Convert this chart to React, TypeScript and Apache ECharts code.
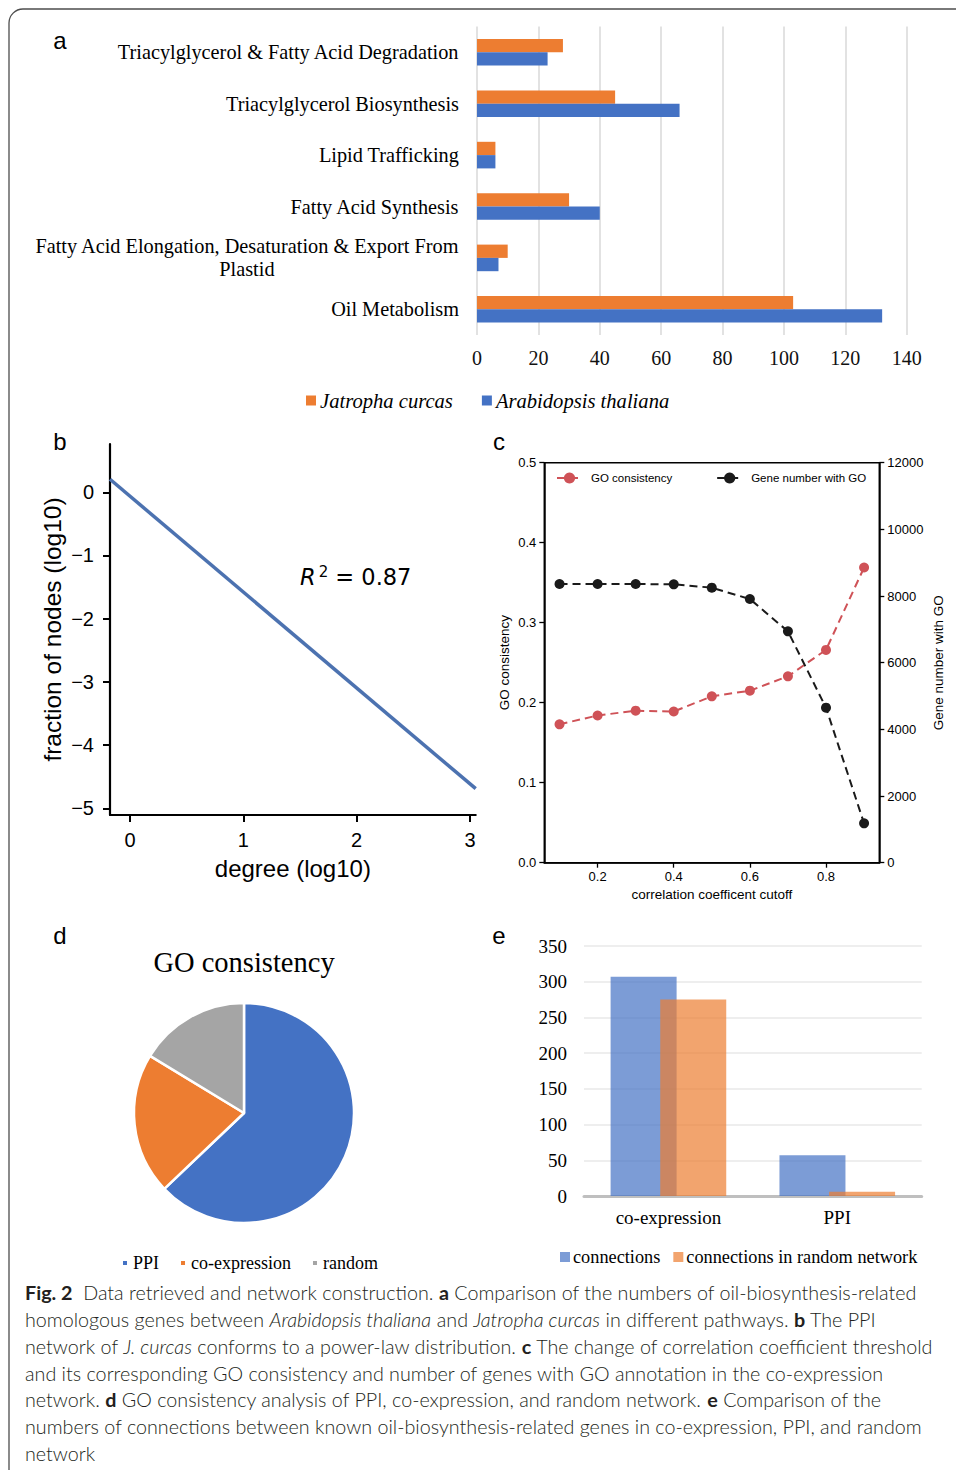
import React, { useEffect, useRef } from 'react';
import * as echarts from 'echarts';

// ---- Panel a data ----
const pathways = [
  'Triacylglycerol & Fatty Acid Degradation',
  'Triacylglycerol Biosynthesis',
  'Lipid Trafficking',
  'Fatty Acid Synthesis',
  'Fatty Acid Elongation, Desaturation & Export From Plastid',
  'Oil Metabolism',
];
const jatrophaCounts = [28, 45, 6, 30, 10, 103];
const arabidopsisCounts = [23, 66, 6, 40, 7, 132];

// ---- Panel b data ----
const degreeFitLine = [
  [-0.176, 0.206],
  [3.05, -4.69],
];
const degreeTicks = [0, 1, 2, 3];
const fractionTicks = [0, -1, -2, -3, -4, -5];

// ---- Panel c data ----
const cutoffs = [0.1, 0.2, 0.3, 0.4, 0.5, 0.6, 0.7, 0.8, 0.9];
const goConsistency = [0.173, 0.184, 0.19, 0.189, 0.208, 0.215, 0.233, 0.266, 0.369];
const geneNumberWithGO = [8360, 8360, 8360, 8350, 8250, 7910, 6940, 4650, 1180];
const cutoffTicks = [0.2, 0.4, 0.6, 0.8];

// ---- Panel d data ----
const pieNames = ['PPI', 'co-expression', 'random'];
const pieValues = [62.9, 20.8, 16.3];

// ---- Panel e data ----
const networkTypes = ['co-expression', 'PPI'];
const connections = [307, 57];
const randomConnections = [275, 6];

// ---- Caption ----
const captionLines = [
  '{b|Fig. 2}  Data retrieved and network construction. {b|a} Comparison of the numbers of oil-biosynthesis-related',
  'homologous genes between {i|Arabidopsis thaliana} and {i|Jatropha curcas} in different pathways. {b|b} The PPI',
  'network of {i|J. curcas} conforms to a power-law distribution. {b|c} The change of correlation coefficient threshold',
  'and its corresponding GO consistency and number of genes with GO annotation in the co-expression',
  'network. {b|d} GO consistency analysis of PPI, co-expression, and random network. {b|e} Comparison of the',
  'numbers of connections between known oil-biosynthesis-related genes in co-expression, PPI, and random',
  'network',
];

const SERIF = 'Liberation Serif';
const SANS = 'Liberation Sans';
const ORANGE = '#ed7d31';
const BLUE = '#4472c4';
const GRAY = '#a5a5a5';

export default function App() {
  const ref = useRef<HTMLDivElement>(null);

  useEffect(() => {
    if (!ref.current) return;
    const chart = echarts.init(ref.current, null, { renderer: 'svg' });

    const capFont = 'Lato';
    const capSize = 19.5;
    const capScale = 1.012;

    const graphic: any[] = [
      {
        type: 'rect',
        shape: { x: 9, y: 9, width: 1200, height: 1700, r: 14 },
        style: { fill: 'none', stroke: '#4d4d4d', lineWidth: 1.3 },
        silent: true,
      },
      ...[
        ['a', 60, 40],
        ['b', 60, 441],
        ['c', 499, 441],
        ['d', 60, 935],
        ['e', 499, 935],
      ].map(([t, x, y]) => ({
        type: 'text',
        x,
        y,
        style: {
          text: t,
          fontFamily: SANS,
          fontSize: 24,
          fill: '#000',
          align: 'center',
          verticalAlign: 'middle',
        },
      })),
      {
        type: 'text',
        x: 244,
        y: 962,
        style: {
          text: 'GO consistency',
          fontFamily: SERIF,
          fontSize: 28.5,
          fill: '#000',
          align: 'center',
          verticalAlign: 'middle',
        },
      },
      {
        type: 'text',
        x: 300,
        y: 577,
        style: {
          text: '{i|R}{s|2}{n| = 0.87}',
          verticalAlign: 'middle',
          rich: {
            i: { fontFamily: 'DejaVu Sans', fontStyle: 'italic', fontSize: 22.5, fill: '#000', lineHeight: 26 },
            s: { fontFamily: 'DejaVu Sans', fontSize: 15, fill: '#000', verticalAlign: 'top', padding: [0, 0, 0, 3] },
            n: { fontFamily: 'DejaVu Sans', fontSize: 22.5, fill: '#000', lineHeight: 26 },
          },
        },
      },
      ...captionLines.map((line, i) => ({
        type: 'text',
        x: 25,
        y: 1293 + i * 26.7,
        scaleX: capScale,
        style: {
          text: line,
          fontFamily: capFont,
          fontSize: capSize,
          fontWeight: 300,
          fill: '#231f20',
          verticalAlign: 'middle',
          rich: {
            b: { fontFamily: capFont, fontSize: capSize, fontWeight: 'bold', fill: '#231f20' },
            i: { fontFamily: capFont, fontSize: capSize, fontStyle: 'italic', fontWeight: 300, fill: '#231f20' },
          },
        },
      })),
    ];

    const option: any = {
      animation: false,
      backgroundColor: '#fff',
      legend: [
        {
          data: ['Jatropha curcas', 'Arabidopsis thaliana'],
          left: 306,
          top: 390,
          padding: 0,
          icon: 'rect',
          itemWidth: 10,
          itemHeight: 10,
          itemGap: 29,
          textStyle: { fontFamily: SERIF, fontSize: 20.6, fontStyle: 'italic', color: '#000', padding: [0, 0, 0, -1] },
        },
        {
          data: ['GO consistency', 'Gene number with GO'],
          left: 556,
          top: 472,
          padding: 0,
          itemWidth: 25,
          itemHeight: 14,
          itemGap: 44,
          textStyle: { fontFamily: SANS, fontSize: 11.5, color: '#000', padding: [0, 0, 0, 4] },
        },
        {
          data: pieNames,
          left: 121,
          top: 1254,
          padding: 0,
          icon: 'rect',
          itemWidth: 6,
          itemHeight: 6,
          itemGap: 20,
          textStyle: { fontFamily: SERIF, fontSize: 18, color: '#000' },
        },
        {
          data: ['connections', 'connections in random network'],
          left: 560,
          top: 1248,
          padding: 0,
          icon: 'rect',
          itemWidth: 10,
          itemHeight: 10,
          itemGap: 13,
          textStyle: { fontFamily: SERIF, fontSize: 18.3, color: '#000', padding: [0, 0, 0, -2] },
        },
      ],
      grid: [
        { left: 477, top: 26.6, width: 429.7, height: 308.4 },
        { left: 110, top: 444, width: 365.7, height: 371 },
        { left: 544.3, top: 462.7, width: 335, height: 400, show: true, borderColor: '#000', borderWidth: 1.5 },
        { left: 584, top: 946, width: 337.7, height: 250 },
      ],
      xAxis: [
        {
          gridIndex: 0,
          type: 'value',
          min: 0,
          max: 140,
          interval: 20,
          axisLine: { show: false },
          axisTick: { show: false },
          splitLine: { show: true, lineStyle: { color: '#d9d9d9', width: 1.5 } },
          axisLabel: { fontFamily: SERIF, fontSize: 20, color: '#111', margin: 13 },
        },
        {
          gridIndex: 1,
          type: 'value',
          min: -0.176,
          max: 3.05,
          name: 'degree (log10)',
          nameLocation: 'middle',
          nameGap: 41,
          nameTextStyle: { fontFamily: SANS, fontSize: 24, color: '#000' },
          axisLine: { show: true, onZero: false, lineStyle: { color: '#000', width: 2.2 } },
          axisTick: { show: true, length: 7, lineStyle: { color: '#000', width: 2 }, customValues: degreeTicks },
          axisLabel: { fontFamily: SANS, fontSize: 20, color: '#000', margin: 15, customValues: degreeTicks },
          splitLine: { show: false },
        },
        {
          gridIndex: 2,
          type: 'value',
          min: 0.06,
          max: 0.94,
          name: 'correlation coefficent cutoff',
          nameLocation: 'middle',
          nameGap: 25,
          nameTextStyle: { fontFamily: SANS, fontSize: 13.5, color: '#000' },
          axisLine: { show: true, onZero: false, lineStyle: { color: '#000', width: 1.5 } },
          axisTick: { show: true, length: 5, lineStyle: { color: '#000', width: 1.3 }, customValues: cutoffTicks },
          axisLabel: {
            fontFamily: SANS,
            fontSize: 13,
            color: '#000',
            margin: 7,
            customValues: cutoffTicks,
            formatter: (v: number) => v.toFixed(1),
          },
          splitLine: { show: false },
        },
        {
          gridIndex: 3,
          type: 'category',
          data: networkTypes,
          axisLine: { show: true, lineStyle: { color: '#bfbfbf', width: 3 } },
          axisTick: { show: false },
          axisLabel: { fontFamily: SERIF, fontSize: 19, color: '#000', margin: 12 },
        },
      ],
      yAxis: [
        {
          gridIndex: 0,
          type: 'category',
          data: pathways,
          inverse: true,
          axisLine: { show: false },
          axisTick: { show: false },
          axisLabel: {
            margin: 18,
            align: 'right',
            formatter: (v: string) => {
              if (v.endsWith(' Plastid')) {
                return `{c|${v.slice(0, v.length - 8)}}\n{c|Plastid}`;
              }
              return `{c|${v}}`;
            },
            rich: {
              c: { fontFamily: SERIF, fontSize: 20.3, color: '#000', lineHeight: 23, align: 'center' },
            },
          },
        },
        {
          gridIndex: 1,
          type: 'value',
          min: -5.106,
          max: 0.764,
          name: 'fraction of nodes (log10)',
          nameLocation: 'middle',
          nameGap: 45,
          nameRotate: 90,
          nameTextStyle: { fontFamily: SANS, fontSize: 24.5, color: '#000' },
          axisLine: { show: true, onZero: false, lineStyle: { color: '#000', width: 2.2 } },
          axisTick: { show: true, length: 7, lineStyle: { color: '#000', width: 2 }, customValues: fractionTicks },
          axisLabel: {
            fontFamily: SANS,
            fontSize: 20,
            color: '#000',
            margin: 16,
            customValues: fractionTicks,
            formatter: (v: number) => String(v).replace('-', '\u2212'),
          },
          splitLine: { show: false },
        },
        {
          gridIndex: 2,
          type: 'value',
          min: 0,
          max: 0.5,
          interval: 0.1,
          name: 'GO consistency',
          nameLocation: 'middle',
          nameGap: 33,
          nameRotate: 90,
          nameTextStyle: { fontFamily: SANS, fontSize: 13.5, color: '#000' },
          axisLine: { show: true, lineStyle: { color: '#000', width: 1.5 } },
          axisTick: { show: true, length: 5, lineStyle: { color: '#000', width: 1.3 } },
          axisLabel: { fontFamily: SANS, fontSize: 13, color: '#000', margin: 8, formatter: (v: number) => v.toFixed(1) },
          splitLine: { show: false },
        },
        {
          gridIndex: 2,
          type: 'value',
          position: 'right',
          min: 0,
          max: 12000,
          interval: 2000,
          name: 'Gene number with GO',
          nameLocation: 'middle',
          nameGap: 52,
          nameRotate: 90,
          nameTextStyle: { fontFamily: SANS, fontSize: 13.5, color: '#000' },
          axisLine: { show: true, lineStyle: { color: '#000', width: 1.5 } },
          axisTick: { show: true, length: 5, lineStyle: { color: '#000', width: 1.3 } },
          axisLabel: { fontFamily: SANS, fontSize: 13, color: '#000', margin: 8, formatter: (v: number) => String(v) },
          splitLine: { show: false },
        },
        {
          gridIndex: 3,
          type: 'value',
          min: 0,
          max: 350,
          interval: 50,
          axisLine: { show: false },
          axisTick: { show: false },
          axisLabel: { fontFamily: SERIF, fontSize: 19, color: '#000', margin: 17 },
          splitLine: { show: true, lineStyle: { color: '#e8e8e8', width: 1.5 } },
        },
      ],
      series: [
        {
          name: 'Jatropha curcas',
          type: 'bar',
          xAxisIndex: 0,
          yAxisIndex: 0,
          data: jatrophaCounts,
          barWidth: 13.3,
          barGap: '0%',
          itemStyle: { color: ORANGE },
        },
        {
          name: 'Arabidopsis thaliana',
          type: 'bar',
          xAxisIndex: 0,
          yAxisIndex: 0,
          data: arabidopsisCounts,
          barWidth: 13.3,
          barGap: '0%',
          itemStyle: { color: BLUE },
        },
        {
          name: 'power-law fit',
          type: 'line',
          xAxisIndex: 1,
          yAxisIndex: 1,
          data: degreeFitLine,
          showSymbol: false,
          lineStyle: { color: '#4c72b0', width: 3.5 },
          itemStyle: { color: '#4c72b0' },
        },
        {
          name: 'GO consistency',
          type: 'line',
          xAxisIndex: 2,
          yAxisIndex: 2,
          data: cutoffs.map((c, i) => [c, goConsistency[i]]),
          symbol: 'circle',
          symbolSize: 10,
          lineStyle: { color: '#cf5257', width: 2, type: [8, 5] },
          itemStyle: { color: '#cf5257' },
        },
        {
          name: 'Gene number with GO',
          type: 'line',
          xAxisIndex: 2,
          yAxisIndex: 3,
          data: cutoffs.map((c, i) => [c, geneNumberWithGO[i]]),
          symbol: 'circle',
          symbolSize: 10,
          lineStyle: { color: '#1a1a1a', width: 2, type: [8, 5] },
          itemStyle: { color: '#1a1a1a' },
        },
        {
          name: 'GO consistency pie',
          type: 'pie',
          center: [244, 1113],
          radius: 110,
          startAngle: 90,
          clockwise: true,
          label: { show: false },
          labelLine: { show: false },
          itemStyle: { borderColor: '#fff', borderWidth: 2.5 },
          emphasis: { disabled: true },
          data: pieNames.map((n, i) => ({
            name: n,
            value: pieValues[i],
            itemStyle: { color: [BLUE, ORANGE, GRAY][i] },
          })),
        },
        {
          name: 'connections',
          type: 'bar',
          xAxisIndex: 3,
          yAxisIndex: 4,
          data: connections,
          barWidth: 66,
          barGap: '-24.8%',
          itemStyle: { color: 'rgba(68,114,196,0.7)' },
        },
        {
          name: 'connections in random network',
          type: 'bar',
          xAxisIndex: 3,
          yAxisIndex: 4,
          data: randomConnections,
          barWidth: 66,
          barGap: '-24.8%',
          itemStyle: { color: 'rgba(237,125,49,0.7)' },
        },
      ],
      graphic,
    };

    chart.setOption(option);
    return () => chart.dispose();
  }, []);

  return (
    <div
      ref={ref}
      style={{ position: 'absolute', left: 0, top: 0, width: 956, height: 1470, background: '#fff' }}
    />
  );
}
